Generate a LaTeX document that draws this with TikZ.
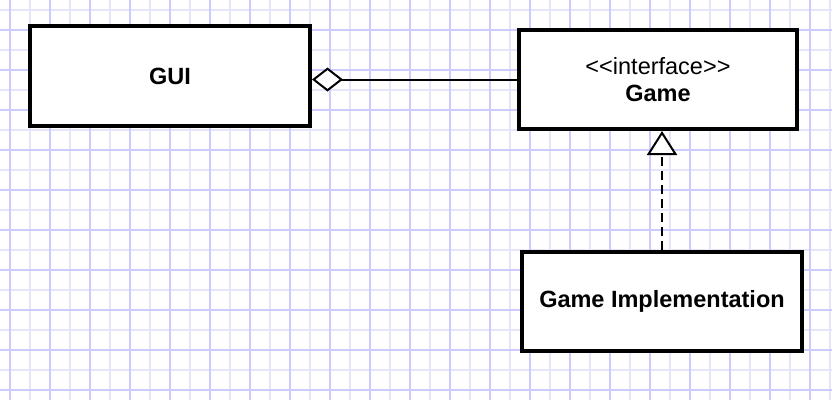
\documentclass[tikz,border=0pt]{standalone}
\usepackage{fontspec}
\newfontfamily\umlfont{Liberation Sans}
\usetikzlibrary{arrows.meta}
\definecolor{gridmajor}{RGB}{204,204,255}
\definecolor{gridminor}{RGB}{230,230,250}
\begin{document}
\begin{tikzpicture}[x=1pt,y=-1pt,
  umlbox/.style={draw=black, line width=4pt, fill=white, inner sep=0pt,
    minimum width=280pt, minimum height=100pt, align=center,
    font={\umlfont\fontsize{23.5}{26.7}\selectfont}},
  minorline/.style={gridminor, line width=1.5pt},
  majorline/.style={gridmajor, line width=1.5pt},
  conn/.style={black, line width=2pt}]
\useasboundingbox (0,0) rectangle (832,400);
\fill[white] (0,0) rectangle (832,400);
% grid
\foreach \v in {30,70,...,830} \draw[minorline] (\v,0) -- (\v,400);
\foreach \v in {10,50,...,390} \draw[minorline] (0,\v) -- (832,\v);
\foreach \v in {10,50,...,810} \draw[majorline] (\v,0) -- (\v,400);
\foreach \v in {30,70,...,390} \draw[majorline] (0,\v) -- (832,\v);
% classes
\node[umlbox, font={\umlfont\fontsize{23.5}{26.7}\selectfont\bfseries}] (gui) at (170,76) {GUI};
\node[umlbox, minimum width=278pt, minimum height=99pt] (game) at (658,79.5) {<<interface>>\\\bfseries Game};
\node[umlbox, minimum height=99pt, font={\umlfont\fontsize{23.5}{26.7}\selectfont\bfseries}] (impl) at (662,301.5) {Game Implementation};
% connectors
\draw[conn, -{Diamond[open, fill=white, length=31pt, width=24pt]}] (game.west) -- (gui.east |- game.west);
\draw[conn, dash pattern=on 9pt off 5pt, -{Triangle[open, fill=white, length=24pt, width=30pt]}] (impl.north) -- (impl.north |- game.south);
\end{tikzpicture}
\end{document}
